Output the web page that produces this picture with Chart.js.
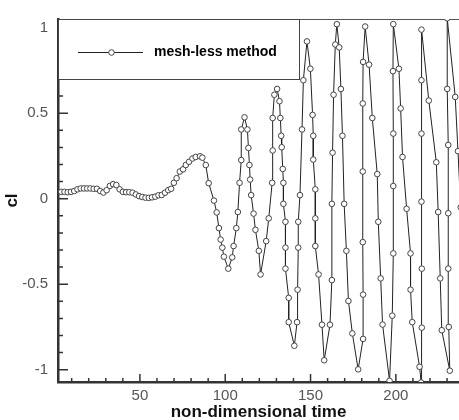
<!DOCTYPE html>
<html>
<head>
<meta charset="utf-8">
<script src="https://cdn.jsdelivr.net/npm/chart.js@4.4.0/dist/chart.umd.min.js"></script>
<style>
  html, body { margin: 0; padding: 0; background: #fff; }
</style>
</head>
<body>
<canvas id="chart" width="459" height="420"></canvas>
<script>
// series
const seriesName = "mesh-less method";
const time = [
  3.9, 5.8, 7.7, 9.6, 11.5, 13.4, 15.3, 17.2, 19.1, 21.0, 22.9, 24.8, 26.7, 28.6, 30.5, 32.4,
  34.3, 36.2, 38.1, 40.0, 41.9, 43.8, 45.7, 47.6, 49.5, 51.4, 53.3, 55.2, 57.1, 59.0, 60.9, 62.8,
  64.7, 66.6, 68.3, 69.9, 71.5, 73.4, 75.3, 76.9, 78.8, 80.8, 82.7, 85.2, 86.6, 88.6, 90.3, 93.4,
  95.0, 96.3, 97.3, 98.3, 99.2, 101.8,
  104.1, 104.9, 106.5, 107.4, 108.4, 109.4, 109.4, 111.3,
  113.0, 113.6, 114.2, 114.6, 115.2, 116.6, 117.7, 119.7, 120.7,
  124.0, 125.5, 127.5, 127.8, 127.8, 128.8, 130.4,
  131.8, 132.3, 132.8, 133.1, 133.7, 134.1, 134.1, 135.3, 135.3, 135.3, 137.2, 137.2, 140.5,
  142.1, 142.4, 142.8, 142.8, 143.8, 145.0, 145.8, 147.9,
  149.9, 151.2, 151.6, 151.6, 152.8, 152.8, 152.8, 154.7, 156.7, 158.0,
  161.4, 162.5, 162.5, 162.9, 163.5, 164.5, 165.4,
  166.8, 167.8, 168.7, 169.7, 171.0, 172.2, 174.5, 177.9,
  180.8, 180.8, 180.6, 180.6, 180.6, 180.8, 182.0,
  184.3, 186.2, 189.1, 189.7, 191.1, 192.2, 196.3,
  197.9, 198.5, 198.5, 198.5, 198.3, 198.5,
  201.8, 202.8, 203.9, 206.3, 208.6, 208.6, 209.6, 213.9, 214.8,
  215.2, 215.2, 215.0, 215.0, 215.0, 215.0,
  219.3, 223.7, 224.8, 226.0, 226.9, 231.6,
  231.0, 230.7, 230.7, 230.7, 230.1, 230.1,
  234.8, 236.4, 238.0
];
const cl = [
  0.04, 0.04, 0.038, 0.04, 0.045, 0.055, 0.06, 0.06, 0.06, 0.06, 0.058, 0.058, 0.045, 0.036, 0.05, 0.075,
  0.085, 0.08, 0.055, 0.04, 0.038, 0.038, 0.035, 0.025, 0.015, 0.01, 0.006, 0.005, 0.008, 0.012, 0.02, 0.022,
  0.035, 0.05, 0.058, 0.093, 0.12, 0.159, 0.172, 0.197, 0.216, 0.235, 0.244, 0.248, 0.24, 0.197, 0.091, -0.011,
  -0.08, -0.172, -0.239, -0.286, -0.339, -0.409,
  -0.343, -0.277, -0.172, -0.078, 0.093, 0.226, 0.405, 0.476,
  0.405, 0.297, 0.197, 0.112, 0.021, -0.087, -0.182, -0.305, -0.443,
  -0.248, -0.115, 0.093, 0.282, 0.472, 0.608, 0.642,
  0.57, 0.472, 0.368, 0.301, 0.174, 0.093, -0.03, -0.135, -0.286, -0.409, -0.58, -0.722, -0.86,
  -0.722, -0.532, -0.286, -0.135, 0.021, 0.405, 0.693, 0.92,
  0.76, 0.49, 0.368, 0.229, 0.055, -0.115, -0.277, -0.443, -0.737, -0.945,
  -0.737, -0.476, -0.03, 0.269, 0.608, 0.902, 1.021,
  0.885, 0.642, 0.368, -0.03, -0.305, -0.598, -0.788, -0.998,
  -0.82, -0.561, -0.254, 0.159, 0.557, 0.8, 1.007,
  0.784, 0.472, 0.144, -0.135, -0.466, -0.736, -1.065,
  -0.684, -0.32, 0.074, 0.381, 0.746, 1.021,
  0.76, 0.528, 0.244, -0.059, -0.32, -0.532, -0.722, -0.983, -1.075,
  -0.754, -0.409, -0.017, 0.381, 0.693, 0.989,
  0.574, 0.213, -0.078, -0.466, -0.769, -1.006,
  -0.75, -0.409, -0.085, 0.314, 0.642, 1.055,
  0.595, 0.278, -0.05
];

const xRange = [2.0, 237];
const yRange = [-1.072, 1.051];
const xMinorStep = 10, xMajorStep = 50;
const yMinorStep = 0.1, yMajorStep = 0.5;

const points = time.map((t, i) => ({ x: t, y: cl[i] }));

// ticks pointing into the plot, top frame line and the boxed legend
const frame = {
  id: "frame",
  beforeDatasetsDraw(chart) {
    const { ctx, chartArea: a, scales: { x, y } } = chart;
    ctx.save();
    ctx.strokeStyle = "#333";
    ctx.lineWidth = 1.5;
    ctx.beginPath();
    for (let v = xMinorStep; v <= x.max; v += xMinorStep) {
      const px = x.getPixelForValue(v);
      const len = v % xMajorStep === 0 ? 8 : 4;
      ctx.moveTo(px, a.bottom);
      ctx.lineTo(px, a.bottom - len);
    }
    for (let i = -10; i <= 10; i++) {
      const v = i * yMinorStep;
      const py = y.getPixelForValue(v);
      const len = i % 5 === 0 ? 10 : 5;
      ctx.moveTo(a.left, py);
      ctx.lineTo(a.left + len, py);
    }
    ctx.stroke();
    ctx.strokeStyle = "#555";
    ctx.lineWidth = 1;
    ctx.beginPath();
    ctx.moveTo(a.left, a.top + 0.5);
    ctx.lineTo(a.right, a.top + 0.5);
    ctx.stroke();
    ctx.restore();
  },
  afterDraw(chart) {
    const { ctx, chartArea: a } = chart;
    const ds = chart.data.datasets[0];
    ctx.save();
    ctx.fillStyle = "#fff";
    ctx.fillRect(a.left + 1, a.top + 1, 240, 59);
    ctx.strokeStyle = "#444";
    ctx.lineWidth = 1;
    ctx.strokeRect(a.left + 0.5, a.top + 0.5, 241, 60);
    const ly = a.top + 33.5;
    ctx.strokeStyle = ds.borderColor;
    ctx.beginPath();
    ctx.moveTo(a.left + 20, ly);
    ctx.lineTo(a.left + 85, ly);
    ctx.stroke();
    ctx.beginPath();
    ctx.arc(a.left + 53.5, ly, ds.pointRadius, 0, Math.PI * 2);
    ctx.fillStyle = ds.pointBackgroundColor;
    ctx.fill();
    ctx.strokeStyle = ds.pointBorderColor;
    ctx.stroke();
    ctx.fillStyle = "#000";
    ctx.font = "bold 14px 'Liberation Sans', Arial, sans-serif";
    ctx.textBaseline = "middle";
    ctx.fillText(ds.label, a.left + 96, ly);
    ctx.restore();
  }
};

const tickFont = { family: "'Liberation Sans', Arial, sans-serif", size: 15 };
const titleFont = { family: "'Liberation Sans', Arial, sans-serif", size: 17, weight: "bold" };

new Chart(document.getElementById("chart"), {
  type: "line",
  data: {
    datasets: [{
      label: seriesName,
      data: points,
      borderColor: "#222",
      borderWidth: 1,
      pointRadius: 2.8,
      pointBorderWidth: 1,
      pointBorderColor: "#444",
      pointBackgroundColor: "#fff",
      tension: 0
    }]
  },
  options: {
    responsive: false,
    animation: false,
    layout: { autoPadding: false, padding: { top: 8, right: 0, left: 0, bottom: 0 } },
    plugins: { legend: { display: false }, tooltip: { enabled: false } },
    scales: {
      x: {
        type: "linear",
        min: xRange[0],
        max: xRange[1],
        grid: { display: false, drawTicks: false },
        border: { display: true, color: "#333", width: 2.5 },
        ticks: { stepSize: xMajorStep, includeBounds: false, color: "#555", font: tickFont, padding: 5, maxRotation: 0 },
        title: { display: true, text: "non-dimensional time", color: "#111", font: titleFont, padding: { top: 0, bottom: -3 } },
        afterFit(scale) { scale.height = 38; }
      },
      y: {
        min: yRange[0],
        max: yRange[1],
        grid: { display: false, drawTicks: false },
        border: { display: true, color: "#333", width: 2.5 },
        ticks: { stepSize: yMajorStep, includeBounds: false, color: "#555", font: tickFont, padding: 10,
                 callback: (v) => String(v) },
        title: { display: true, text: "cl", color: "#111", font: titleFont, padding: 2 },
        afterFit(scale) { scale.width = 58; }
      }
    }
  },
  plugins: [frame]
});
</script>
</body>
</html>
